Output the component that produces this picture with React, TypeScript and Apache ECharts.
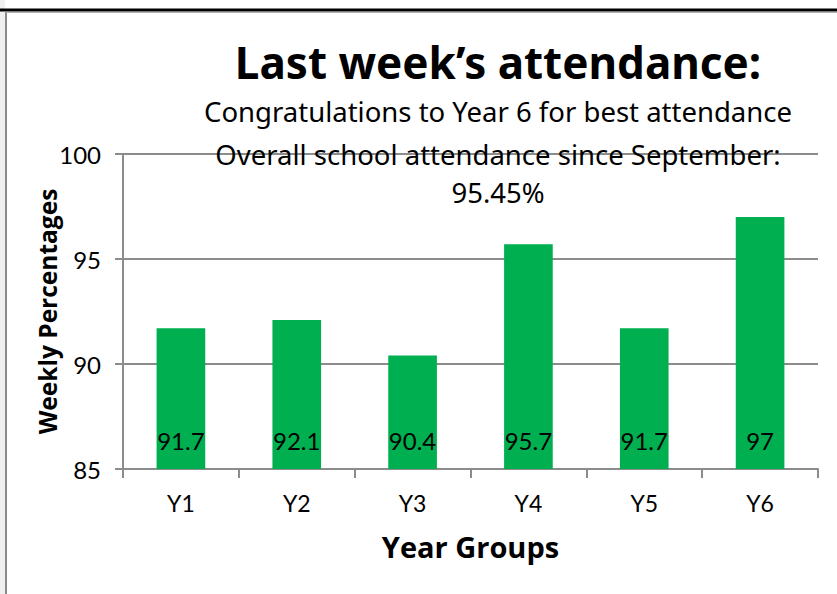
import React, { useEffect, useRef } from "react";
import * as echarts from "echarts";

const categories = ["Y1", "Y2", "Y3", "Y4", "Y5", "Y6"];
const values = [91.7, 92.1, 90.4, 95.7, 91.7, 97];
const titleText = "Last week’s attendance:";
const subtitleLines = [
  "Congratulations to Year 6 for best attendance",
  "Overall school attendance since September:",
  "95.45%",
];
const yAxisName = "Weekly Percentages";
const xAxisName = "Year Groups";

export default function App() {
  const ref = useRef<HTMLDivElement>(null);
  useEffect(() => {
    if (!ref.current) return;
    const chart = echarts.init(ref.current, null, { renderer: "svg" });
    const axisColor = "#8c8c8c";
    chart.setOption({
      animation: false,
      backgroundColor: "#ffffff",
      grid: { left: 123, right: 19, top: 154, bottom: 125 },
      xAxis: {
        type: "category",
        data: categories,
        name: xAxisName,
        nameLocation: "middle",
        nameGap: 63,
        nameMoveOverlap: false,
        nameTextStyle: { fontFamily: "Open Sans", fontWeight: "bold", fontSize: 29, color: "#000" },
        axisLine: { lineStyle: { color: axisColor, width: 2 } },
        axisTick: { show: true, length: 9, lineStyle: { color: axisColor, width: 2 } },
        axisLabel: { fontFamily: "Lato", fontSize: 23, color: "#000", margin: 22 },
      },
      yAxis: {
        type: "value",
        min: 85,
        max: 100,
        interval: 5,
        name: yAxisName,
        nameLocation: "middle",
        nameGap: 63,
        nameMoveOverlap: false,
        nameRotate: 90,
        nameTextStyle: { fontFamily: "Open Sans", fontWeight: "bold", fontSize: 24.5, color: "#000" },
        axisLine: { show: true, lineStyle: { color: axisColor, width: 2 } },
        axisTick: { show: true, length: 8, lineStyle: { color: axisColor, width: 2 } },
        axisLabel: { fontFamily: "Lato", fontSize: 24, color: "#000", margin: 22 },
        splitLine: { show: true, lineStyle: { color: axisColor, width: 2 } },
      },
      series: [
        {
          type: "bar",
          data: values,
          barWidth: "42%",
          itemStyle: { color: "#00b050" },
          label: {
            show: true,
            position: "insideBottom",
            distance: 17,
            fontFamily: "Lato",
            fontSize: 24,
            color: "#000",
          },
        },
      ],
      graphic: [
        { type: "rect", shape: { x: 0, y: 0, width: 5, height: 594 }, style: { fill: "#f0f0f0" }, silent: true },
        { type: "line", shape: { x1: 6, y1: 12, x2: 6, y2: 594 }, style: { stroke: "#8a8a8a", lineWidth: 2 }, silent: true },
        { type: "line", shape: { x1: 0, y1: 10, x2: 837, y2: 10 }, style: { stroke: "#000", lineWidth: 3 }, silent: true },
        { type: "line", shape: { x1: 6, y1: 12.5, x2: 837, y2: 12.5 }, style: { stroke: "#b0b0b0", lineWidth: 1 }, silent: true },
        {
          type: "text",
          x: 498,
          y: 62,
          style: {
            text: titleText,
            fontFamily: "Noto Sans",
            fontWeight: "bold",
            fontSize: 44,
            fill: "#000",
            align: "center",
            verticalAlign: "middle",
          },
        },
        ...subtitleLines.map((t, i) => ({
          type: "text",
          x: 498,
          y: [111, 154, 192][i],
          z: 10,
          style: {
            text: t,
            fontFamily: "Noto Sans",
            fontSize: 27.5,
            fill: "#000",
            align: "center",
            verticalAlign: "middle",
          },
        })),
      ],
    });
    return () => chart.dispose();
  }, []);
  return (
    <div
      ref={ref}
      style={{ position: "fixed", left: 0, top: 0, width: 837, height: 594 }}
    />
  );
}
